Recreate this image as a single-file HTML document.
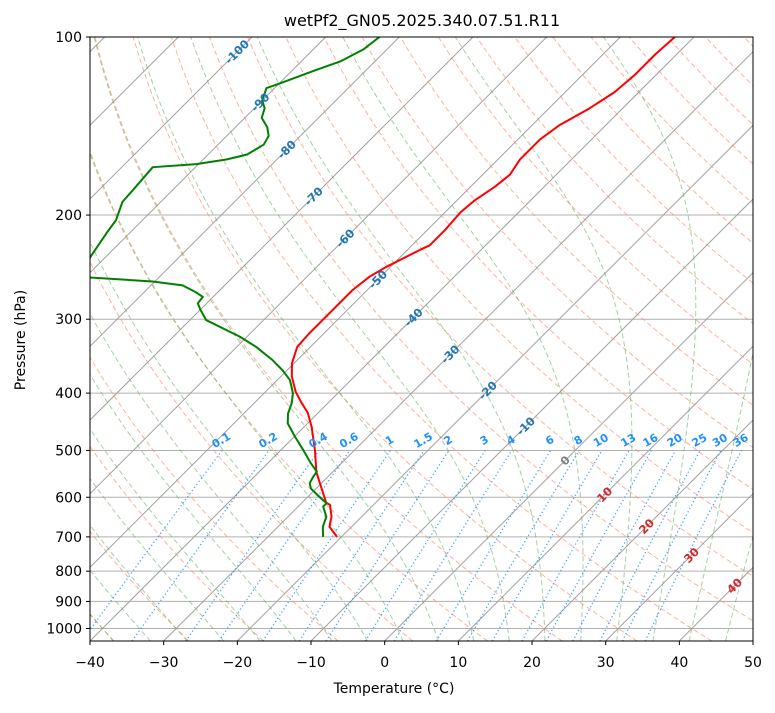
<!DOCTYPE html>
<html><head><meta charset="utf-8"><style>
body{margin:0;background:#fff;}
svg{font-family:"DejaVu Sans","Liberation Sans",sans-serif;}
</style></head><body>
<svg id="chart" width="775" height="708" viewBox="0 0 775 708" xmlns="http://www.w3.org/2000/svg">
<defs><clipPath id="plotclip"><rect x="90" y="37" width="663" height="604"/></clipPath></defs>
<rect x="0" y="0" width="775" height="708" fill="#fff"/>
<text x="422" y="26" text-anchor="middle" font-size="16">wetPf2_GN05.2025.340.07.51.R11</text>
<g id="plot" clip-path="url(#plotclip)"></g>
<g id="labels"></g>
<rect x="90" y="37" width="663" height="604" fill="none" stroke="#000" stroke-width="1"/>
<g id="axes"></g>
<text x="394" y="693" text-anchor="middle" font-size="14">Temperature (°C)</text>
<text x="0" y="0" transform="translate(25,340) rotate(-90)" text-anchor="middle" font-size="14">Pressure (hPa)</text>
</svg>
<script>
const tempP = [700,673,647,618,613,544,499,456,432,414,398,375,356,334,317,293,268,254,245,229,225,212,198,189,179,171,161,149,141,132,124,116,107,100];
const tempT = [-20.6,-23.0,-24.1,-25.9,-26.7,-32.2,-35.4,-39.0,-41.4,-43.8,-45.9,-48.5,-50.3,-51.8,-52.0,-52.0,-52.0,-51.5,-50.6,-48.3,-47.6,-47.6,-47.9,-47.6,-46.7,-46.3,-47.0,-47.0,-46.3,-44.5,-43.3,-42.9,-42.9,-42.6];
const dewP = [700,673,647,622,614,595,580,568,554,543,526,499,474,450,433,416,400,380,366,352,334,321,315,301,289,282,275,270,263,259,255,246,237,215,204,190,181,166,164,161,158,152,147,142,137,132,128,122,120,114,110,105,100];
const dewT = [-22.5,-23.9,-24.8,-26.6,-26.6,-28.9,-30.7,-31.6,-32.0,-32.2,-34.1,-37.0,-39.9,-42.7,-44.0,-44.9,-46.1,-48.3,-50.6,-53.3,-57.4,-61.0,-63.0,-67.8,-70.0,-71.2,-71.4,-73.0,-75.7,-80.3,-89.4,-96.1,-92.0,-93.1,-93.6,-95.2,-95.4,-95.8,-90.3,-86.8,-84.7,-83.8,-84.3,-85.7,-87.7,-88.6,-90.0,-91.1,-90.0,-87.0,-84.7,-83.2,-82.7];
const xTicks = [-40,-30,-20,-10,0,10,20,30,40,50];
const yTicks = [100,200,300,400,500,600,700,800,900,1000];
const mixRatios = [0.1,0.2,0.4,0.6,1,1.5,2,3,4,6,8,10,13,16,20,25,30,36];
const isoLabelT = [-100,-90,-80,-70,-60,-50,-40,-30,-20,-10,0,10,20,30,40];
const isoLabelP = [106,129,155,186,219,257,298,344,396,455,520,594,672,752,847];

const NS="http://www.w3.org/2000/svg";
const plot=document.getElementById('plot'), labels=document.getElementById('labels'), axes=document.getElementById('axes');
function yOf(p){return 37+Math.log10(p/100)*591.5;}
function xOf(T,p){return 90+(T+40)*7.367+(641-yOf(p));}
function mk(tag,attrs,parent){const e=document.createElementNS(NS,tag);for(const k in attrs)e.setAttribute(k,attrs[k]);parent.appendChild(e);return e;}
function pathFrom(ps,ts){let d='';for(let i=0;i<ps.length;i++){d+=(i?'L':'M')+xOf(ts[i],ps[i]).toFixed(2)+','+yOf(ps[i]).toFixed(2);}return d;}

yTicks.forEach(p=>{const l=mk('line',{x1:90,x2:753,y1:yOf(p),y2:yOf(p),stroke:'#b0b0b0','stroke-width':1},plot);

});
for(let T=-200;T<=50;T+=10){const l=mk('line',{x1:xOf(T,1050),y1:yOf(1050),x2:xOf(T,100),y2:yOf(100),stroke:'#a0a0a0','stroke-width':1},plot);

}
const pLevels=[];for(let p=1050;p>=100;p-=10)pLevels.push(p);
for(let t0=-80;t0<=300;t0+=10){const th=t0+273.15;const ts=pLevels.map(p=>th*Math.pow(p/1000,0.2857)-273.15);
const e=mk('path',{d:pathFrom(pLevels,ts),fill:'none',stroke:'#f88a6a','stroke-opacity':0.65,'stroke-width':1,'stroke-dasharray':'5,3'},plot);

}
function dTdp(T,p){const Rd=287.04,Cp=1005.7,Lv=2.501e6,eps=0.622;const es=6.112*Math.exp(17.67*(T-273.15)/(T-29.65));const rs=eps*es/(p-es);
return (Rd*T+Lv*rs)/(p*(Cp+Lv*Lv*rs*eps/(Rd*T*T)));}
function moist(t0){let T=t0+273.15,p=1000;const up=[[p,T]];
while(p>100){const dp=-5;const k1=dTdp(T,p);const k2=dTdp(T+k1*dp,p+dp);T+=0.5*(k1+k2)*dp;p+=dp;up.push([p,T]);}
T=t0+273.15;p=1000;const dn=[];while(p<1050){const dp=5;const k1=dTdp(T,p);const k2=dTdp(T+k1*dp,p+dp);T+=0.5*(k1+k2)*dp;p+=dp;dn.unshift([p,T]);}
const all=dn.concat(up);return [all.map(a=>a[0]),all.map(a=>a[1]-273.15)];}
for(let t0=-80;t0<=45;t0+=5){const r=moist(t0);
const e=mk('path',{d:pathFrom(r[0],r[1]),fill:'none',stroke:'#5aaa5a','stroke-opacity':0.55,'stroke-width':1,'stroke-dasharray':'5,3'},plot);

}
const mrP=[];for(let p=1050;p>=500;p-=10)mrP.push(p);
function tdOf(w,p){const e=w*p/(0.622+w);const l=Math.log(e/6.112);return 243.5*l/(17.67-l);}
mixRatios.forEach(m=>{const w=m/1000;const ts=mrP.map(p=>tdOf(w,p));
const e=mk('path',{d:pathFrom(mrP,ts),fill:'none',stroke:'#1e90ff','stroke-opacity':0.85,'stroke-width':1.3,'stroke-dasharray':'1.2,2.6'},plot);


const x=xOf(tdOf(w,500),500)+1,y=yOf(500)-7;
const t=mk('text',{x:x,y:y,'text-anchor':'middle','font-size':11,'font-weight':'bold',fill:'#1e90ff',transform:`rotate(-30 ${x} ${y})`},labels);
t.textContent=String(m);

});
const tp=mk('path',{d:pathFrom(tempP,tempT),fill:'none',stroke:'#ff0000','stroke-width':2,'stroke-linejoin':'round'},plot);


const dp=mk('path',{d:pathFrom(dewP,dewT),fill:'none',stroke:'#008000','stroke-width':2,'stroke-linejoin':'round'},plot);


isoLabelT.forEach((T,i)=>{const p=isoLabelP[i];const x=xOf(T,p),y=yOf(p)+4;
const col=T<0?'#1f77b4':(T===0?'#808080':'#d62728');
const t=mk('text',{x:x,y:y,'text-anchor':'middle','font-size':11.5,'font-weight':'bold',fill:col,transform:`rotate(-45 ${x} ${y-4})`},labels);
t.textContent=String(T);

});
xTicks.forEach(T=>{const x=90+(T+40)*7.367;
const l=mk('line',{x1:x,x2:x,y1:641,y2:645,stroke:'#000'},axes);


const t=mk('text',{x:x,y:667,'text-anchor':'middle','font-size':14},axes);
t.textContent=(T<0?'\u2212'+(-T):String(T));

});
yTicks.forEach(p=>{const y=yOf(p);
const l=mk('line',{x1:86,x2:90,y1:y,y2:y,stroke:'#000'},axes);


const t=mk('text',{x:82,y:y+5,'text-anchor':'end','font-size':14},axes);
t.textContent=String(p);

});
</script>
</body></html>
